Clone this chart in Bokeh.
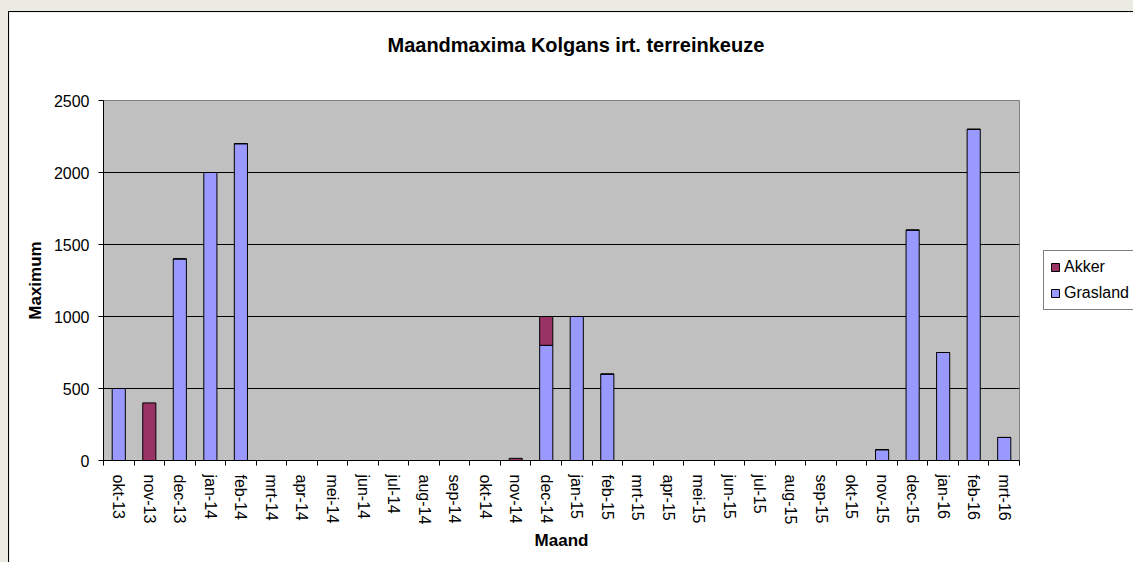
from bokeh.plotting import figure
from bokeh.models import (Range1d, FixedTicker, Legend, LegendItem, ColumnDataSource, Title)
from bokeh.embed import file_html
from bokeh.resources import INLINE

months = ["okt-13", "nov-13", "dec-13", "jan-14", "feb-14", "mrt-14", "apr-14", "mei-14",
          "jun-14", "jul-14", "aug-14", "sep-14", "okt-14", "nov-14", "dec-14", "jan-15",
          "feb-15", "mrt-15", "apr-15", "mei-15", "jun-15", "jul-15", "aug-15", "sep-15",
          "okt-15", "nov-15", "dec-15", "jan-16", "feb-16", "mrt-16"]
grasland = [500, 0, 1400, 2000, 2200, 0, 0, 0, 0, 0, 0, 0, 0, 0, 800, 1000,
            600, 0, 0, 0, 0, 0, 0, 0, 0, 75, 1600, 750, 2300, 160]
akker = [0, 400, 0, 0, 0, 0, 0, 0, 0, 0, 0, 0, 0, 15, 200, 0,
         0, 0, 0, 0, 0, 0, 0, 0, 0, 0, 0, 0, 0, 0]
y_ticks = [0, 500, 1000, 1500, 2000, 2500]
title_text = "Maandmaxima Kolgans irt. terreinkeuze"

FONT = "Liberation Sans"
pos = list(range(len(months)))
src = ColumnDataSource(dict(x=pos, Grasland=grasland, Akker=akker))

p = figure(frame_width=916, frame_height=360, output_backend="svg", toolbar_location=None,
           x_range=Range1d(-0.5, len(months) - 0.5), y_range=Range1d(0, 2500),
           min_border_left=94, min_border_right=114, min_border_top=88, min_border_bottom=102,
           background_fill_color="#C0C0C0", border_fill_color="white",
           outline_line_color="#808080", outline_line_width=1)
p.margin = (11, 0, 0, 8)
p.styles = {"border-left": "1px solid black", "border-top": "1px solid black"}

p.title.text = title_text
p.title.align = "left"
p.title.offset = 284
p.title.standoff = 0
p.title.vertical_align = "bottom"
p.title.text_font = FONT
p.title.text_font_size = "20px"
p.title.text_font_style = "bold"
p.title.text_color = "black"

# inner spacer title keeps the real title away from the plot area
spacer = Title(text=" ", standoff=21, text_font=FONT, text_font_size="20px")
p.add_layout(spacer, "above")

rs = p.vbar_stack(["Grasland", "Akker"], x="x", width=0.43, source=src,
                  fill_color=["#9999FF", "#993366"], line_color="black", line_width=1)

# axes
xa = p.xaxis[0]
xa.ticker = FixedTicker(ticks=pos, minor_ticks=[i - 0.5 for i in range(len(months) + 1)])
xa.major_label_overrides = {i: m for i, m in enumerate(months)}
xa.major_label_orientation = "vertical"
xa.major_tick_out = 0
xa.major_tick_in = 0
xa.minor_tick_out = 5
xa.minor_tick_in = 0
xa.minor_tick_line_color = "black"
xa.major_label_standoff = 9
xa.axis_label = "Maand"
xa.axis_label_standoff = 4

ya = p.yaxis[0]
ya.ticker = FixedTicker(ticks=y_ticks)
ya.major_tick_out = 5
ya.major_tick_in = 0
ya.minor_tick_line_color = None
ya.major_label_standoff = 9
ya.axis_label = "Maximum"
ya.axis_label_standoff = 6

for ax in (xa, ya):
    ax.axis_line_color = "black"
    ax.major_tick_line_color = "black"
    ax.major_label_text_font = FONT
    ax.major_label_text_font_size = "16px"
    ax.major_label_text_color = "black"
    ax.axis_label_text_font = FONT
    ax.axis_label_text_font_size = "17px"
    ax.axis_label_text_font_style = "bold"
    ax.axis_label_text_color = "black"

p.xgrid.grid_line_color = None
p.ygrid.grid_line_color = "black"
p.ygrid.grid_line_width = 1
p.ygrid.grid_line_alpha = 1

legend = Legend(items=[LegendItem(label="Akker", renderers=[rs[1]]),
                       LegendItem(label="Grasland", renderers=[rs[0]])],
                location="left", orientation="vertical",
                border_line_color="black", border_line_width=1,
                background_fill_color="white", background_fill_alpha=1,
                label_text_font=FONT, label_text_font_size="16px", label_text_color="black",
                glyph_width=10, glyph_height=10, label_height=20,
                spacing=6, padding=6, margin=24, label_standoff=4)
p.add_layout(legend, "right")

html = file_html(p, INLINE)
html = html.replace("</head>",
                    "<style>html, body { background-color: #ecebe3; overflow: hidden; }</style></head>", 1)
open("out.html", "w").write(html)
